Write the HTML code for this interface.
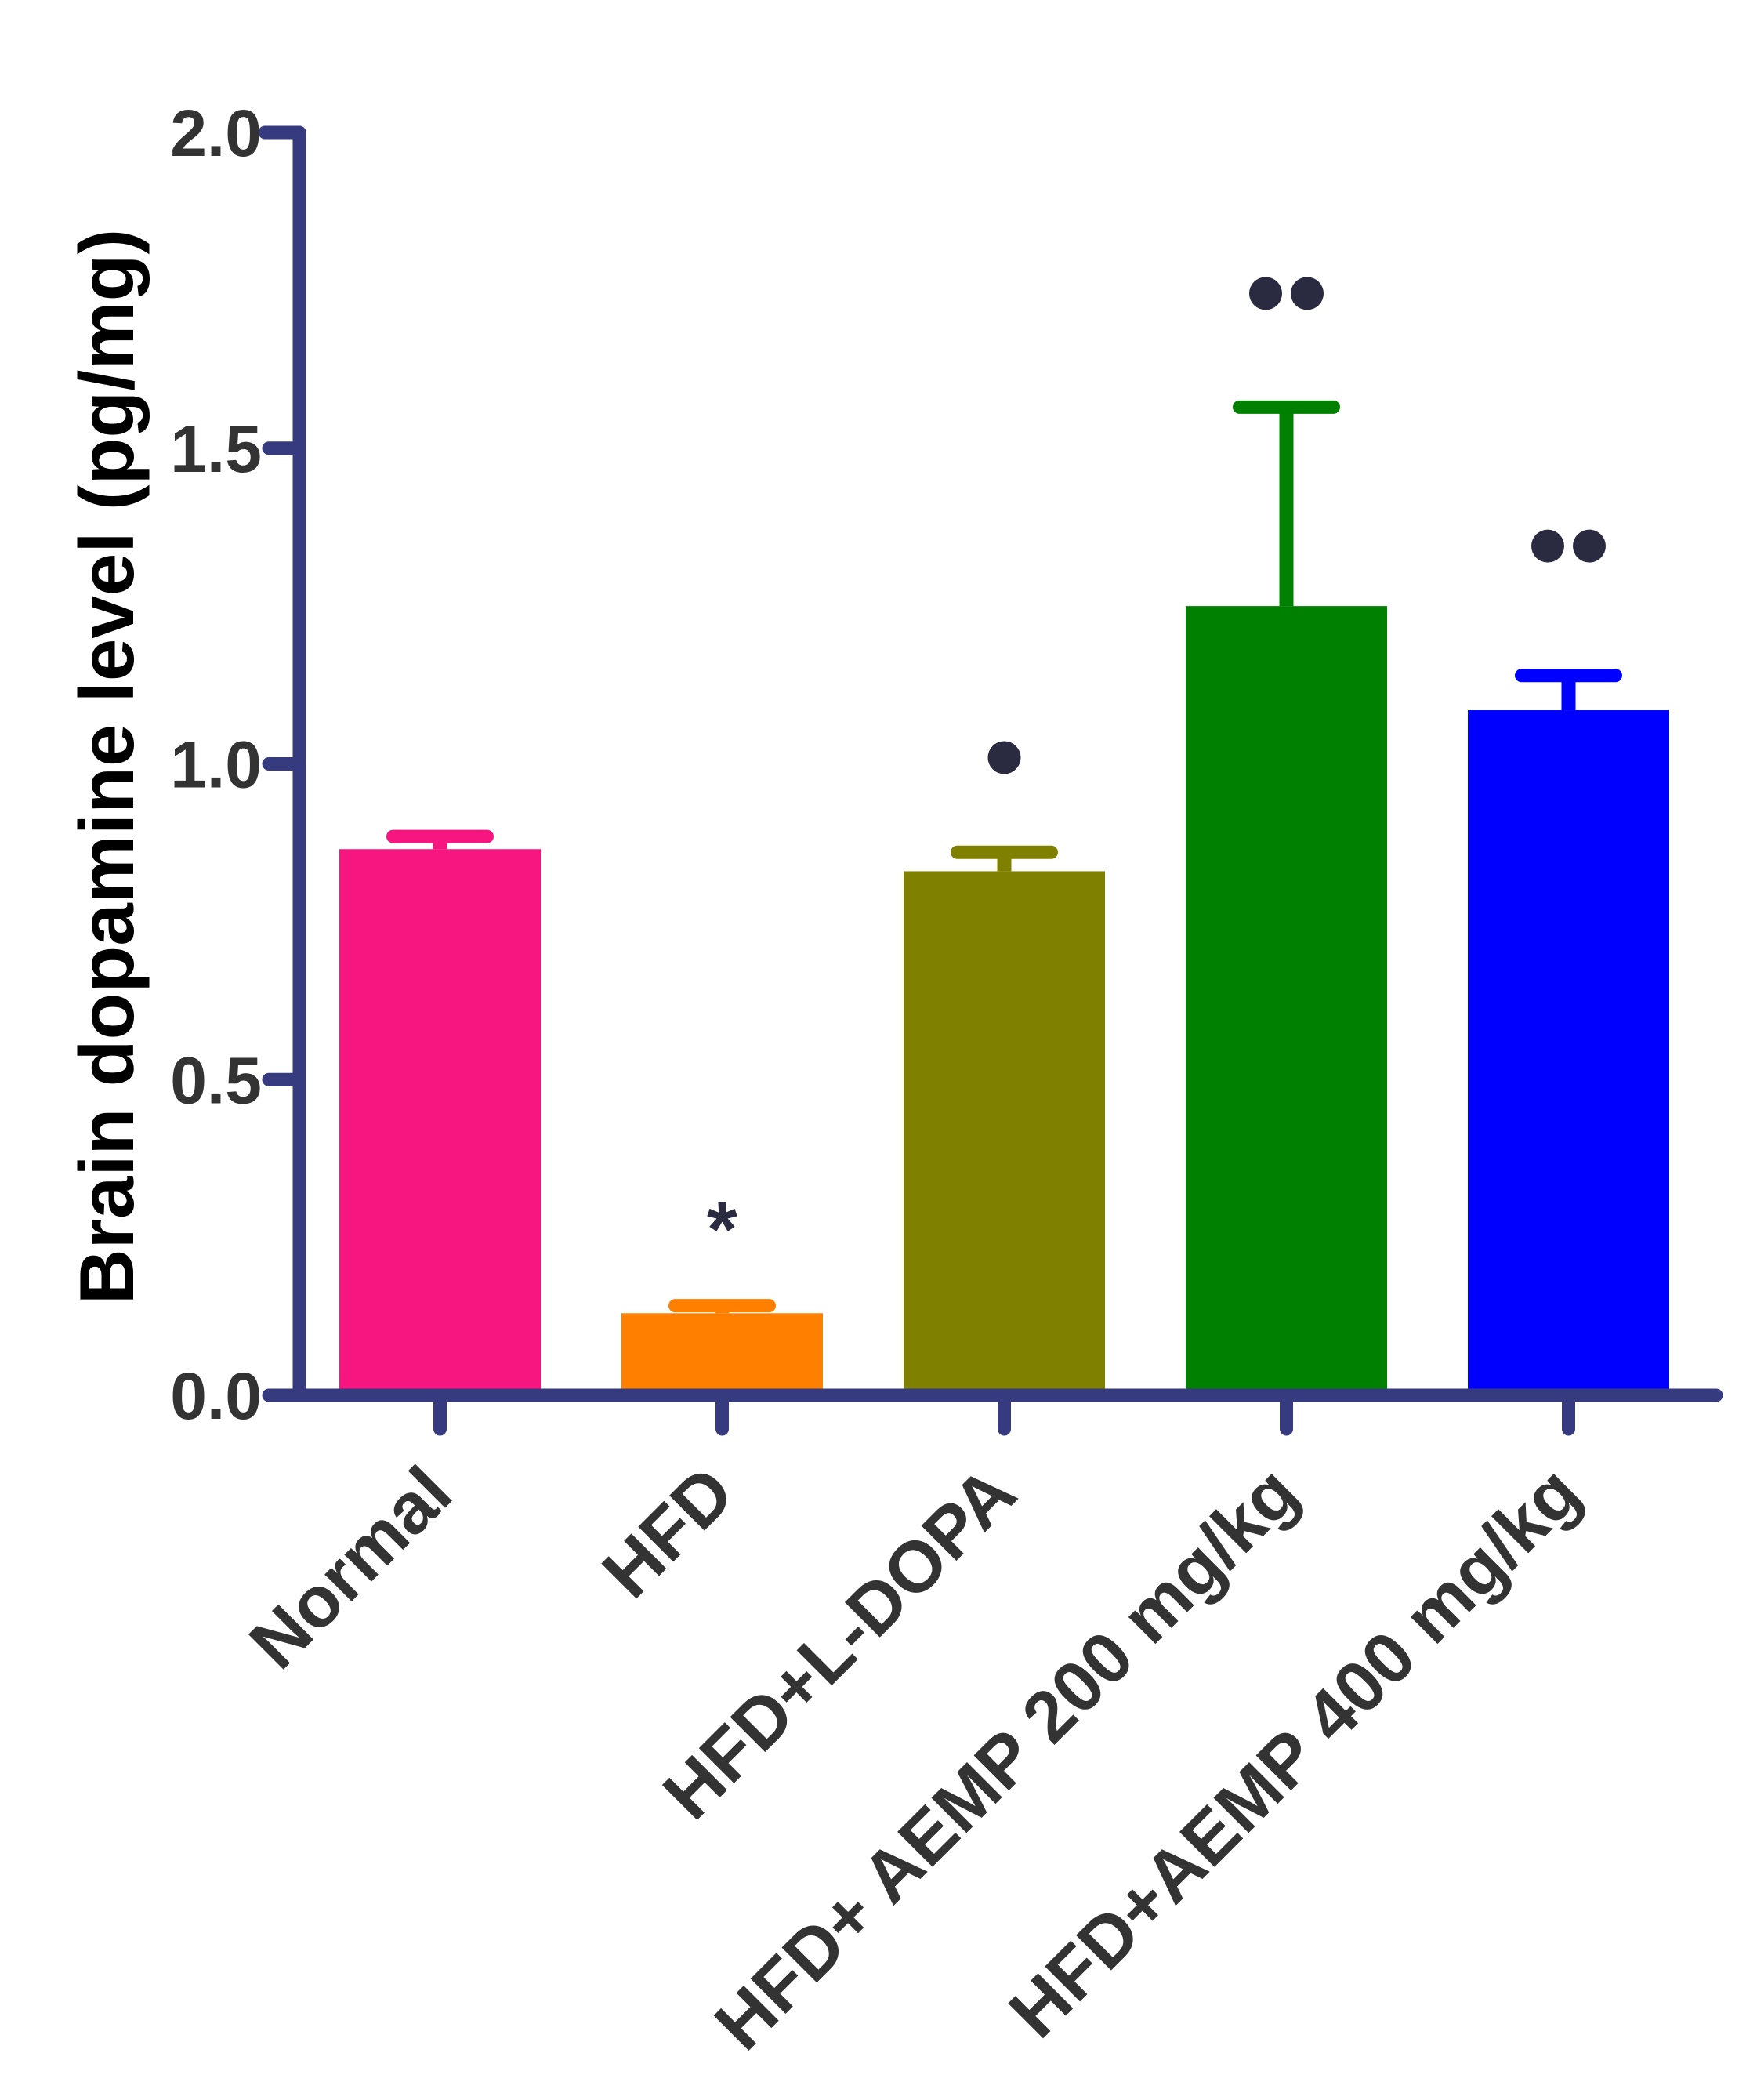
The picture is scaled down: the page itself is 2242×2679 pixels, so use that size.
<!DOCTYPE html>
<html><head><meta charset="utf-8"><style>
html,body{margin:0;padding:0;background:#fff;}
svg{display:block;font-family:"Liberation Sans",Arial,sans-serif;font-weight:bold;}
</style></head><body>
<svg id="chart" width="2242" height="2679" viewBox="0 0 2242 2679" xmlns="http://www.w3.org/2000/svg"></svg>
<script>
const categories = ["Normal","HFD","HFD+L-DOPA","HFD+ AEMP 200 mg/kg","HFD+AEMP 400 mg/kg"];
const means = [0.865, 0.13, 0.83, 1.25, 1.085];
const errors = [0.02, 0.012, 0.03, 0.315, 0.055];
const marks = ["", "*", "\u25CF", "\u25CF\u25CF", "\u25CF\u25CF"];
const markLevels = [0, 0.28, 1.01, 1.745, 1.345];
const yTicks = [0, 0.5, 1.0, 1.5, 2.0];
const yTickLabels = ["0.0","0.5","1.0","1.5","2.0"];
const colors = ["#f7157f","#ff8000","#808000","#008000","#0000ff"];

const svg = document.getElementById('chart');
const NS = "http://www.w3.org/2000/svg";
const axisColor = "#363b80";
const y0 = 1780, yTop = 169, yMax = 2.0;
const yS = v => y0 - (v / yMax) * (y0 - yTop);
const xS = i => 561.5 + 360 * i;
const barW = 257;
function mk(tag, attrs, parent){const e=document.createElementNS(NS,tag);for(const k in attrs)e.setAttribute(k,attrs[k]);(parent||svg).appendChild(e);return e;}

categories.forEach((c,i)=>{
  const b = mk('rect',{x:xS(i)-barW/2,y:yS(means[i]),width:barW,height:y0-yS(means[i]),fill:colors[i]});
  
  
  const top = yS(means[i]+errors[i]);
  const st = mk('line',{x1:xS(i),x2:xS(i),y1:yS(means[i]),y2:top,stroke:colors[i],'stroke-width':18});
  
  
  const cap = mk('line',{x1:xS(i)-60,x2:xS(i)+60,y1:top,y2:top,stroke:colors[i],'stroke-width':17,'stroke-linecap':'round'});
  
  
  if(marks[i]==="*"){
    const t = mk('text',{x:xS(i),y:yS(markLevels[i])+48,'text-anchor':'middle','font-size':100,fill:'#2a2a40'});
    t.textContent='*';
    
    
  } else if(marks[i]){
    const n = marks[i].length;
    for(let k=0;k<n;k++){
      const cx = xS(i) + (k-(n-1)/2)*53;
      const d = mk('circle',{cx:cx,cy:yS(markLevels[i]),r:21,fill:'#2a2a40'});
      
      
    }
  }
  const tk = mk('line',{x1:xS(i),x2:xS(i),y1:y0,y2:1823,stroke:axisColor,'stroke-width':17,'stroke-linecap':'round'});
  
  
  const lx = xS(i)+20, ly = 1910;
  const lab = mk('text',{x:lx,y:ly,'text-anchor':'end','font-size':92,fill:'#333333',transform:`rotate(-45 ${lx} ${ly})`});
  lab.textContent = c;
  
  
});

const ya = mk('path',{d:`M338 ${yTop} L382 ${yTop} L382 ${y0}`,fill:'none',stroke:axisColor,'stroke-width':17,'stroke-linecap':'round','stroke-linejoin':'round'});


const xa = mk('line',{x1:345,x2:2190,y1:y0,y2:y0,stroke:axisColor,'stroke-width':17,'stroke-linecap':'round'});


yTicks.forEach((v,i)=>{
  const t = mk('line',{x1:343,x2:382,y1:yS(v),y2:yS(v),stroke:axisColor,'stroke-width':17,'stroke-linecap':'round'});
  
  
  const l = mk('text',{x:334,y:yS(v)+30,'text-anchor':'end','font-size':84,fill:'#333333'});
  l.textContent = yTickLabels[i];
  
  
});
const yt = mk('text',{x:0,y:0,'text-anchor':'middle','font-size':98,fill:'#000',transform:'translate(170 978) rotate(-90)'});
yt.textContent = 'Brain dopamine level (pg/mg)';


</script>
</body></html>
